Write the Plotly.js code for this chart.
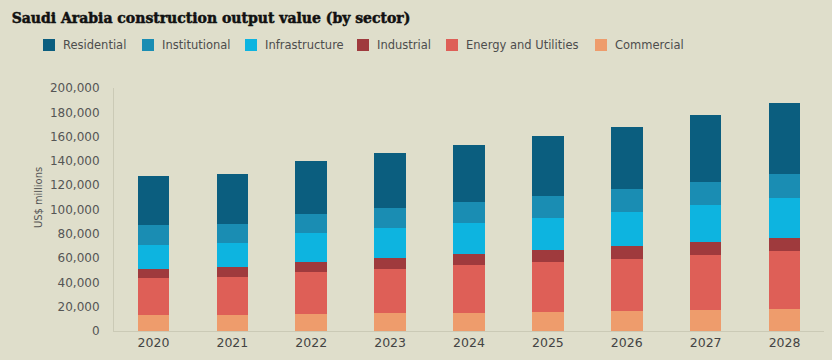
<!DOCTYPE html>
<html>
<head>
<meta charset="utf-8">
<script src="https://cdn.plot.ly/plotly-3.0.1.min.js"></script>
<style>
html,body{margin:0;padding:0;background:#dfdecb;}
#chart{width:832px;height:360px;}
.gtitle{stroke:#111;stroke-width:0.5px;}
</style>
</head>
<body>
<div id="chart"></div>
<script>
const years = ['2020','2021','2022','2023','2024','2025','2026','2027','2028'];
const commercial     = [13400, 13400, 14200, 15100, 15100, 15900, 16700, 17300, 18100];
const energy         = [30000, 30800, 34400, 35900, 38900, 40600, 42800, 45500, 48000];
const industrial     = [7900, 8200, 8200, 9300, 9100, 9900, 10200, 10700, 10700];
const infrastructure = [19700, 20300, 23900, 24700, 26000, 26900, 28500, 30200, 32900];
const institutional  = [16000, 15100, 15600, 16000, 17300, 18100, 18700, 19200, 19800];
const residential    = [40600, 41400, 43700, 45200, 46900, 49100, 51300, 54900, 58400];
const tickVals = [0,20000,40000,60000,80000,100000,120000,140000,160000,180000,200000];
const legendNames = ['Residential','Institutional','Infrastructure','Industrial','Energy and Utilities','Commercial'];

const colors = {
  'Commercial':'#ee9c6c', 'Energy and Utilities':'#de5f57', 'Industrial':'#9f3a3d',
  'Infrastructure':'#0db4e0', 'Institutional':'#1a8db3', 'Residential':'#0b5e7f'
};
const series = [
  ['Commercial', commercial], ['Energy and Utilities', energy], ['Industrial', industrial],
  ['Infrastructure', infrastructure], ['Institutional', institutional], ['Residential', residential]
];
const traces = series.map(([name, y]) => ({
  type:'bar', name:name, x:years, y:y,
  marker:{color:colors[name], line:{width:0}},
  hoverinfo:'x+y+name'
}));

// plot area geometry (pixels)
const L = 114, R = 8, T = 88, B = 29, W = 832, H = 360;
const PW = W - L - R, PH = H - T - B;
const px2x = p => (p - L) / PW;
const py2y = p => (H - B - p) / PH;

// manual legend
const legendTextX = [61, 160, 263, 375, 464, 613];
const legendY = 45;
const shapes = [], annotations = [];
legendNames.forEach((n, i) => {
  const tx = legendTextX[i];
  shapes.push({type:'rect', xref:'paper', yref:'paper',
    x0:px2x(tx - 18), x1:px2x(tx - 6), y0:py2y(legendY + 6), y1:py2y(legendY - 6),
    fillcolor:colors[n], line:{width:0}});
  annotations.push({xref:'paper', yref:'paper', x:px2x(tx), y:py2y(legendY), xanchor:'left', yanchor:'middle',
    text:n, showarrow:false, font:{family:'DejaVu Sans', size:11.5, color:'#4d4d4d'}});
});
annotations.push({xref:'paper', yref:'paper', x:px2x(38), y:py2y(198), xanchor:'center', yanchor:'middle',
  text:'US$ millions', textangle:-90, showarrow:false,
  font:{family:'DejaVu Sans Condensed, Roboto', size:11, stretch:'condensed', color:'#555'}});

const layout = {
  width:W, height:H,
  paper_bgcolor:'#dfdecb', plot_bgcolor:'#dfdecb',
  barmode:'stack', bargap:0.6,
  margin:{l:L, r:R, t:T, b:B},
  title:{text:'Saudi Arabia construction output value (by sector)', x:0.014, xanchor:'left', y:0.95, yanchor:'middle',
    font:{family:'DejaVu Serif', size:14, color:'#111', weight:'bold'}},
  showlegend:false,
  shapes:shapes, annotations:annotations,
  xaxis:{type:'category', showgrid:false, showline:true, linecolor:'#cbcab6', linewidth:1, ticks:'',
    tickfont:{family:'DejaVu Sans', size:12.5, color:'#444'}, range:[-0.5,8.5], fixedrange:true},
  yaxis:{range:[0,200000], tickvals:tickVals, ticktext:tickVals.map(v=>v.toLocaleString('en-US')),
    showgrid:false, showline:true, linecolor:'#cbcab6', linewidth:1, ticks:'', zeroline:false,
    tickfont:{family:'DejaVu Sans', size:12, color:'#555'}, ticklabelstandoff:11},
  font:{family:'DejaVu Sans'}
};
Plotly.newPlot('chart', traces, layout, {displayModeBar:false, staticPlot:true});
</script>
</body>
</html>
